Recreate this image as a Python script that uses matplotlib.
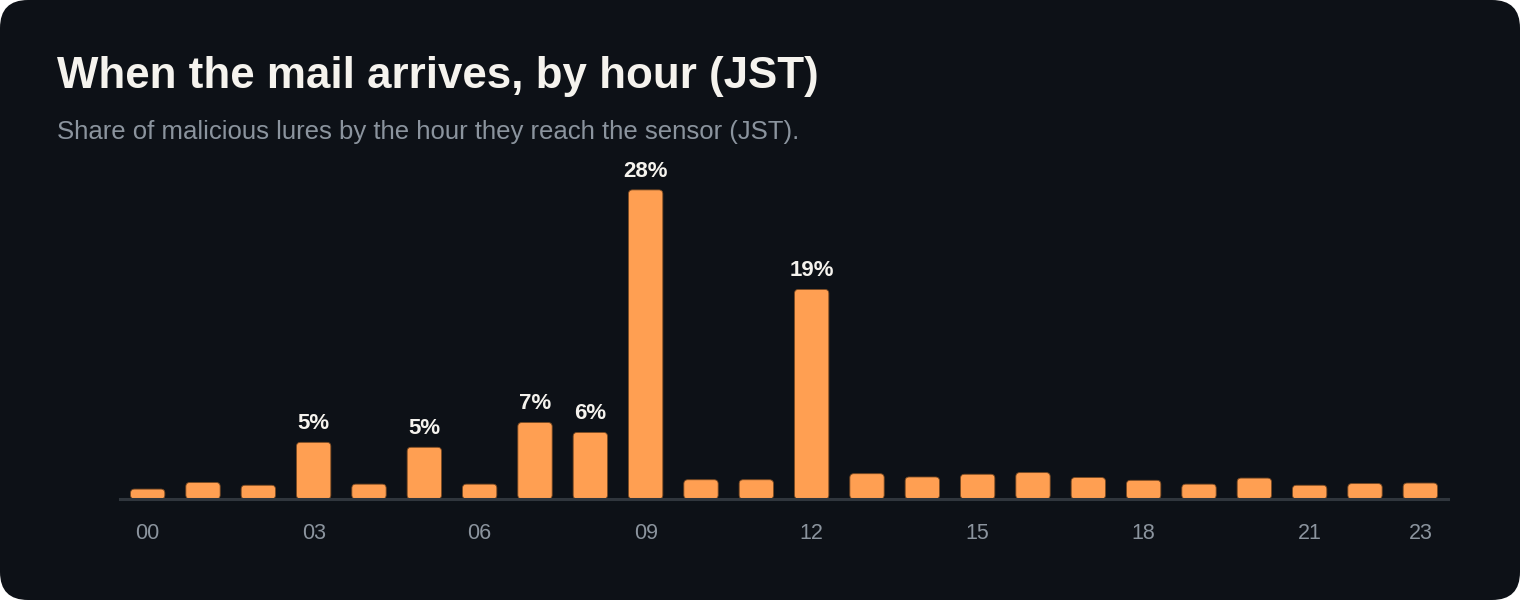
import matplotlib
matplotlib.use("Agg")
import matplotlib.pyplot as plt
import matplotlib.patches as mpatches
from matplotlib.transforms import IdentityTransform

plt.rcParams['font.family'] = ['Liberation Sans', 'DejaVu Sans']

# share of lures per hour (JST), percent
hours = ["00", "01", "02", "03", "04", "05", "06", "07", "08", "09", "10", "11",
         "12", "13", "14", "15", "16", "17", "18", "19", "20", "21", "22", "23"]
share = [0.9, 1.5, 1.25, 5.15, 1.35, 4.7, 1.35, 6.95, 6.05, 28.1, 1.75, 1.75,
         19.05, 2.3, 2.0, 2.25, 2.4, 1.95, 1.7, 1.35, 1.9, 1.25, 1.4, 1.45]
tick_hours = ["00", "03", "06", "09", "12", "15", "18", "21", "23"]
label_min = 4.0

BG = "#0d1117"
BAR = "#ff9f52"
W, H = 1520, 600

fig = plt.figure(figsize=(W / 100, H / 100), dpi=100)
fig.patch.set_facecolor("white")

card = mpatches.FancyBboxPatch((0, 0), W, H, boxstyle="round,pad=0,rounding_size=28",
                               transform=IdentityTransform(), facecolor=BG,
                               edgecolor="none", zorder=-10)
fig.patches.append(card)

ax = fig.add_axes([120 / W, 1 - 499 / H, (1448 - 120) / W, 330 / H])
ax.set_facecolor("none")
ax.set_zorder(5)

x = list(range(len(hours)))
bars = ax.bar(x, share, width=0.62, color=BAR)
ax.set_xlim(-0.5, len(hours) - 0.5)
ax.set_ylim(0, 30)

# swap plain rectangles for rounded ones
xpp = (len(hours)) / (1448 - 120)
ypp = 30 / 330
for b in bars:
    bx, by, bw, bh = b.get_x(), b.get_y(), b.get_width(), b.get_height()
    b.set_visible(False)
    rb = mpatches.FancyBboxPatch((bx, by), bw, bh,
                                 boxstyle="round,pad=0,rounding_size=%f" % (4 * xpp),
                                 mutation_aspect=ypp / xpp,
                                 facecolor=BAR, edgecolor="#7a4a22", linewidth=0.6,
                                 zorder=2)
    ax.add_patch(rb)

for xi, v in zip(x, share):
    if v >= label_min:
        ax.annotate("%d%%" % round(v), (xi, v), xytext=(0, 9.4), textcoords="offset points",
                    ha="center", va="baseline", color="#f5f3ee", fontsize=16,
                    fontweight="bold")

for s in ["top", "right", "left"]:
    ax.spines[s].set_visible(False)
ax.spines["bottom"].set_color("#30363d")
ax.spines["bottom"].set_linewidth(2.2)
ax.spines["bottom"].set_zorder(3)
ax.set_yticks([])
ax.set_xticks([hours.index(h) for h in tick_hours])
ax.set_xticklabels(tick_hours)
ax.tick_params(axis="x", length=0, pad=17.5, labelsize=15.5, labelcolor="#8b949e")

fig.text(57 / W, 1 - 88 / H, "When the mail arrives, by hour (JST)", color="#f5f3ee",
         fontsize=31.6, fontweight="bold", va="baseline", ha="left")
fig.text(57 / W, 1 - 139.5 / H,
         "Share of malicious lures by the hour they reach the sensor (JST).",
         color="#8b949e", fontsize=18.5, va="baseline", ha="left")

fig.savefig("out.png", dpi=100, facecolor=fig.get_facecolor())
